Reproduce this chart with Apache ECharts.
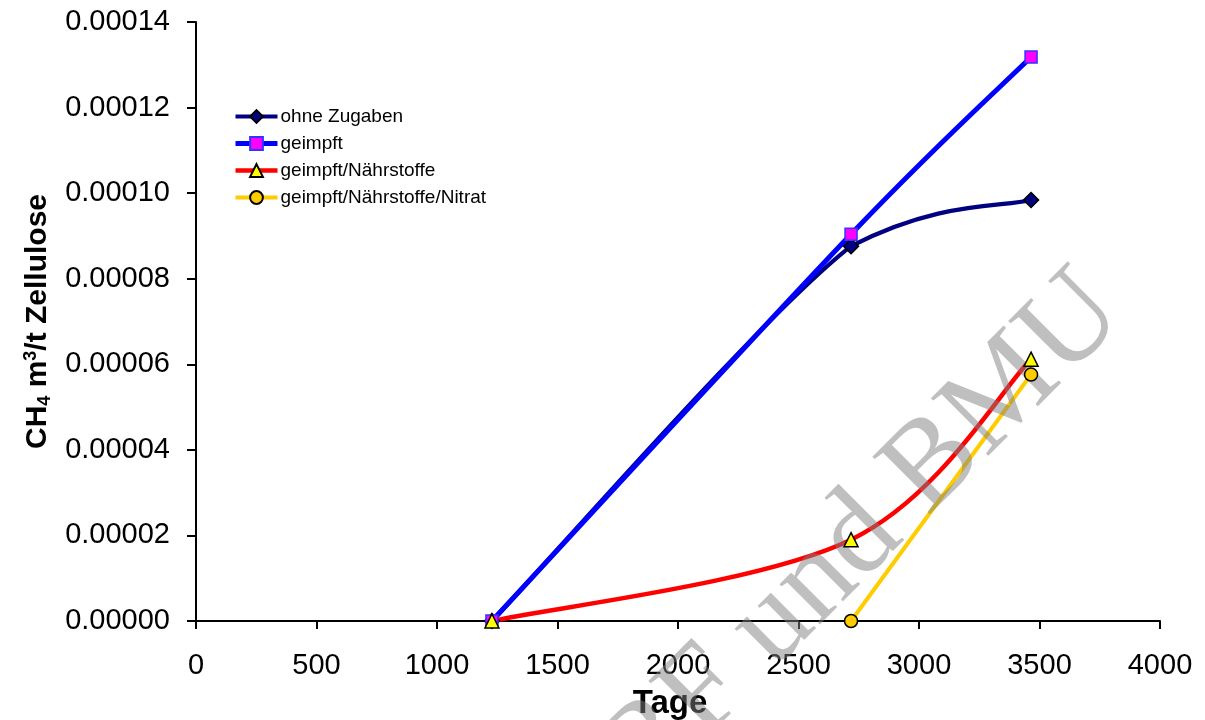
<!DOCTYPE html>
<html>
<head>
<meta charset="utf-8">
<script src="https://cdn.jsdelivr.net/npm/echarts@6/dist/echarts.min.js"></script>
<style>html,body{margin:0;padding:0;background:#fff}#c{width:1205px;height:720px}</style>
</head>
<body>
<div id="c"></div>
<script>
// Data
var seriesNames = ['ohne Zugaben', 'geimpft', 'geimpft/Nährstoffe', 'geimpft/Nährstoffe/Nitrat'];
var ohneZugaben = [[1228, 0], [2718, 0.0000876], [3465, 0.0000984]];
var geimpft = [[1228, 0], [2718, 0.0000904], [3465, 0.0001318]];
var geimpftNaehr = [[1228, 0], [2718, 0.0000190], [3465, 0.0000612]];
var geimpftNaehrNitrat = [[2718, 0], [3465, 0.0000576]];
var xTicks = [0, 500, 1000, 1500, 2000, 2500, 3000, 3500, 4000];
var yTicks = [0, 0.00002, 0.00004, 0.00006, 0.00008, 0.0001, 0.00012, 0.00014];

var FONT = '"Liberation Sans", Arial, sans-serif';
var colors = ['#000080', '#0000ff', '#ff0000', '#ffcc00'];
var widths = [4.2, 5, 4.5, 4];

// Excel-like smoothed curve drawn through the axis scales (api.coord)
function curveSeries(idx, data, z) {
  return {
    type: 'custom', name: seriesNames[idx] + ' (Kurve)', data: data, z: z, silent: true,
    renderItem: function (params, api) {
      var n = params.dataInsideLength, i = params.dataIndexInside;
      if (i >= n - 1) return {type: 'group', children: []};
      function P(k) { k = Math.max(0, Math.min(n - 1, k)); return api.coord([api.value(0, k), api.value(1, k)]); }
      var p0 = P(i - 1), p1 = P(i), p2 = P(i + 1), p3 = P(i + 2), t = 1 / 6;
      var lo = Math.min(p1[1], p2[1]), hi = Math.max(p1[1], p2[1]);
      function cl(v) { return Math.max(lo, Math.min(hi, v)); }
      return {
        type: 'bezierCurve',
        shape: {x1: p1[0], y1: p1[1], x2: p2[0], y2: p2[1],
                cpx1: p1[0] + (p2[0] - p0[0]) * t, cpy1: cl(p1[1] + (p2[1] - p0[1]) * t),
                cpx2: p2[0] - (p3[0] - p1[0]) * t, cpy2: cl(p2[1] - (p3[1] - p1[1]) * t)},
        style: {stroke: colors[idx], lineWidth: widths[idx], fill: null, lineCap: 'round'}
      };
    }
  };
}
function markerSeries(idx, data, symbol, size, fill, border, z) {
  return {
    name: seriesNames[idx], type: 'line', data: data, symbol: symbol, symbolSize: size, z: z,
    lineStyle: {color: colors[idx], width: widths[idx], opacity: 0},
    itemStyle: {color: fill, borderColor: border, borderWidth: 1.5}
  };
}
function legendItem(idx) {
  return {name: seriesNames[idx], lineStyle: {color: colors[idx], width: widths[idx], opacity: 1, type: 'solid'}};
}

var chart = echarts.init(document.getElementById('c'), null, {renderer: 'canvas'});
var option = {
  backgroundColor: '#ffffff',
  animation: false,
  grid: {left: 196, top: 22, right: 45, bottom: 99, containLabel: false, outerBoundsMode: 'none'},
  legend: {
    orient: 'vertical', left: 233, top: 107, padding: 0,
    itemWidth: 42, itemHeight: 16, itemGap: 8,
    textStyle: {fontFamily: FONT, fontSize: 19, color: '#000', padding: [0, 0, 0, -2]},
    data: [legendItem(0), legendItem(1), legendItem(2), legendItem(3)]
  },
  xAxis: {
    type: 'value', min: xTicks[0], max: xTicks[xTicks.length - 1], interval: 500,
    name: 'Tage', nameLocation: 'middle', nameGap: 66,
    nameTextStyle: {fontFamily: FONT, fontSize: 33, fontWeight: 'bold', color: '#000', padding: [0, 16, 0, 0]},
    axisLine: {show: true, onZero: false, lineStyle: {color: '#000', width: 2}},
    axisTick: {show: true, length: 8, lineStyle: {color: '#000', width: 2}},
    axisLabel: {fontFamily: FONT, fontSize: 29, color: '#000', margin: 30, formatter: function (v) { return String(v); }},
    splitLine: {show: false}
  },
  yAxis: {
    type: 'value', min: yTicks[0], max: yTicks[yTicks.length - 1], interval: 0.00002,
    name: '{a|CH}{s|4}{a| m}{p|3}{a|/t Zellulose}', nameLocation: 'middle', nameGap: 128, nameRotate: 90,
    nameTextStyle: {
      fontFamily: FONT, fontWeight: 'bold', color: '#000',
      rich: {
        a: {fontFamily: FONT, fontSize: 30, fontWeight: 'bold', color: '#000', lineHeight: 36},
        s: {fontFamily: FONT, fontSize: 18, fontWeight: 'bold', color: '#000', lineHeight: 36, padding: [15, 0, 0, 0]},
        p: {fontFamily: FONT, fontSize: 18, fontWeight: 'bold', color: '#000', lineHeight: 36, padding: [0, 0, 13, 0]}
      }
    },
    axisLine: {show: true, lineStyle: {color: '#000', width: 2}},
    axisTick: {show: true, length: 9, lineStyle: {color: '#000', width: 2}},
    axisLabel: {fontFamily: FONT, fontSize: 29, color: '#000', margin: 26, formatter: function (v) { return v.toFixed(5); }},
    splitLine: {show: false}
  },
  series: [
    curveSeries(0, ohneZugaben, 2),
    curveSeries(1, geimpft, 3),
    curveSeries(2, geimpftNaehr, 4),
    curveSeries(3, geimpftNaehrNitrat, 5),
    markerSeries(0, ohneZugaben, 'diamond', 15, '#000080', '#000', 106),
    markerSeries(1, geimpft, 'rect', 12, '#ff00ff', '#3333ff', 107),
    markerSeries(2, geimpftNaehr, 'triangle', 14, '#ffff00', '#000', 108),
    markerSeries(3, geimpftNaehrNitrat, 'circle', 13, '#ffcc00', '#000', 109)
  ],
  graphic: [{
    type: 'text', x: 1104, y: 294, rotation: Math.PI / 4, z: 100, silent: true,
    style: {text: 'BMBF und BMU', fontFamily: '"Liberation Serif", "Times New Roman", serif', fontSize: 124,
            fill: 'rgba(128,128,128,0.5)', align: 'right', verticalAlign: 'middle'}
  }]
};
chart.setOption(option);
</script>
</body>
</html>
